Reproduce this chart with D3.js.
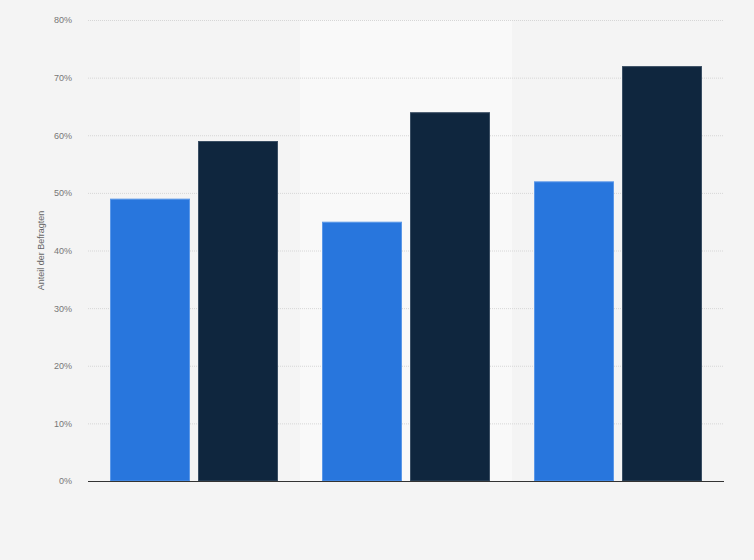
<!DOCTYPE html>
<html>
<head>
<meta charset="utf-8">
<script src="https://cdn.jsdelivr.net/npm/d3@7"></script>
<style>
  html, body { margin: 0; padding: 0; background: #f4f4f4; }
  svg { display: block; font-family: "Liberation Sans", Arial, sans-serif; }
</style>
</head>
<body>
<svg id="chart" width="754" height="560"></svg>
<script>
// categories have no visible labels in the picture
var categories = ['A', 'B', 'C'];
var series = ['Serie 1', 'Serie 2'];
var values1 = [49, 45, 52];
var values2 = [59, 64, 72];
var yTicks = [0, 10, 20, 30, 40, 50, 60, 70, 80];
var colors = ['#2876dd', '#0f263e'];
var strokes = ['#5b98e8', '#3a4e63'];

var margin = {top: 20, right: 30, bottom: 79, left: 88},
    width = 754 - margin.left - margin.right,
    height = 560 - margin.top - margin.bottom;

var svg = d3.select('#chart');
svg.append('rect').attr('width', 754).attr('height', 560).attr('fill', '#f4f4f4');

var g = svg.append('g').attr('transform', 'translate(' + margin.left + ',' + margin.top + ')');

var x0 = d3.scaleBand().domain(categories).range([0, width]).padding(0);
var x1 = d3.scaleBand().domain(series)
  .range([22, x0.bandwidth() - 22])
  .paddingInner(8 / 88).paddingOuter(0);
var y = d3.scaleLinear().domain([0, 80]).range([height, 0]);

// alternating band behind the middle group
g.selectAll('rect.band')
  .data(categories.filter(function(d, i) { return i % 2 === 1; }))
  .enter().append('rect')
  .attr('class', 'band')
  .attr('x', function(d) { return x0(d); })
  .attr('y', 0)
  .attr('width', x0.bandwidth())
  .attr('height', height)
  .attr('fill', '#f9f9f9');

// grid
var yAxis = d3.axisLeft(y).tickValues(yTicks)
  .tickFormat(function(d) { return d + '%'; })
  .tickSize(-width).tickPadding(16);
var ya = g.append('g').call(yAxis);
ya.select('.domain').remove();
ya.selectAll('.tick line')
  .attr('stroke', '#d6d6d6')
  .attr('stroke-dasharray', '1,1')
  .attr('stroke-width', 1);
ya.selectAll('.tick text')
  .attr('fill', '#777')
  .style('font-size', '9px');

var data = categories.map(function(c, i) {
  return {cat: c, vals: [values1[i], values2[i]]};
});

var groups = g.selectAll('g.grp').data(data).enter().append('g')
  .attr('class', 'grp')
  .attr('transform', function(d) { return 'translate(' + x0(d.cat) + ',0)'; });

groups.selectAll('rect')
  .data(function(d) { return d.vals.map(function(v, j) { return {s: series[j], v: v, j: j}; }); })
  .enter().append('rect')
  .attr('x', function(d) { return x1(d.s) + 0.5; })
  .attr('y', function(d) { return y(d.v) + 0.5; })
  .attr('width', x1.bandwidth() - 1)
  .attr('height', function(d) { return height - y(d.v) - 0.5; })
  .attr('fill', function(d) { return colors[d.j]; })
  .attr('stroke', function(d) { return strokes[d.j]; })
  .attr('stroke-width', 1);

// baseline
g.append('line')
  .attr('x1', 0).attr('x2', width)
  .attr('y1', height + 0.5).attr('y2', height + 0.5)
  .attr('stroke', '#333').attr('stroke-width', 1.2);

// y-axis title
svg.append('text')
  .attr('transform', 'translate(44,' + (margin.top + height / 2) + ') rotate(-90)')
  .attr('text-anchor', 'middle')
  .attr('fill', '#666')
  .style('font-size', '9px')
  .text('Anteil der Befragten');
</script>
</body>
</html>
